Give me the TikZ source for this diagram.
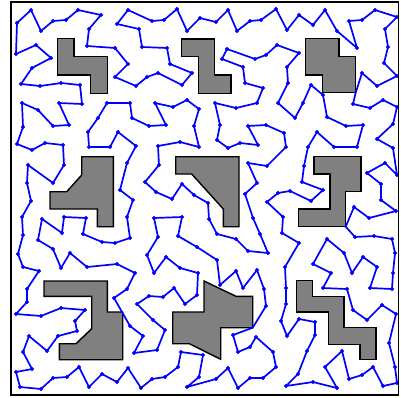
\documentclass[tikz,border=0pt]{standalone}
\definecolor{tourblue}{RGB}{0,0,255}
\definecolor{obsgray}{RGB}{128,128,128}
\begin{document}
\begin{tikzpicture}[x=1pt,y=-1pt]
\tikzset{obstacle/.style={fill=obsgray, draw=black, line width=1.4pt, line join=miter},
  tour/.style={draw=tourblue, line width=1.7pt, line join=round},
  tourdots/.style={only marks, mark=*, mark size=1.9pt, mark options={draw=tourblue, fill=tourblue}}}
\useasboundingbox (0,0) rectangle (401,397);
% obstacles
\draw[obstacle] (57.3,38.3) -- (74,38.3) -- (74,56.7) -- (107.3,56.7) -- (107.3,93.3) -- (90.7,93.3) -- (90.7,75) -- (57.3,75) -- cycle;
\draw[obstacle] (181.7,39) -- (214.3,39) -- (214.3,75) -- (231,75) -- (231,93.3) -- (198.3,93.3) -- (198.3,56.7) -- (181.7,56.7) -- cycle;
\draw[obstacle] (305.7,38.3) -- (339,38.3) -- (339,56.7) -- (355.7,56.7) -- (355.7,92.7) -- (322.7,92.7) -- (322.7,75) -- (305.7,75) -- cycle;
\draw[obstacle] (81.7,156.7) -- (113.3,156.7) -- (113.3,226.7) -- (97.3,226.7) -- (97.3,209) -- (50,209) -- (50,191.7) -- (66.7,191.7) -- (81.7,175) -- cycle;
\draw[obstacle] (175.7,156.7) -- (239,156.7) -- (239,226.7) -- (223.3,226.7) -- (223.3,209) -- (191.7,174) -- (175.7,174) -- cycle;
\draw[obstacle] (314,156.7) -- (361,156.7) -- (361,191.7) -- (345.7,191.7) -- (345.7,226.7) -- (298.3,226.7) -- (298.3,209) -- (330,209) -- (330,174) -- (314,174) -- cycle;
\draw[obstacle] (44,281) -- (107.3,281) -- (107.3,312) -- (122.7,312) -- (122.7,359.7) -- (59.3,359.7) -- (59.3,343.7) -- (76,343.7) -- (91.7,328.7) -- (91.7,296.3) -- (44,296.3) -- cycle;
\draw[obstacle] (204,281) -- (236,296.3) -- (252.7,296.3) -- (252.7,327.7) -- (220.7,327.7) -- (220.7,359.3) -- (189.3,343.7) -- (172.7,343.7) -- (172.7,312) -- (204,312) -- cycle;
\draw[obstacle] (296.7,280.3) -- (312.7,280.3) -- (312.7,296.3) -- (344,296.3) -- (344,327.7) -- (376,327.7) -- (376,359.3) -- (360,359.3) -- (360,344.3) -- (328.3,344.3) -- (328.3,312) -- (296.7,312) -- cycle;
% tour
\draw[tour] plot coordinates {
(215,103) (236,108) (257,103) (263,88) (245,83) (243,67) (222,59) (227,49) (255,59) (266,55) (277,45) (299,53) (287,67) (288,83) (278,103) (295,118) (303,103) (311,85) (323,95) (327,117) (346,126) (363,125) (357,147) (334,147) (317,132) (308,147) (304,166) (302,182) (323,190) (311,201) (290,191) (278,193) (267,202) (283,217) (282,233) (299,243) (285,267) (286,288) (286,304) (281,321) (287,336) (299,319) (315,322) (315,335) (307,351) (298,374) (286,386) (313,382) (337,388) (325,367) (342,351) (349,379) (362,375) (373,367) (383,386) (397,383) (395,367) (389,343) (396,314) (382,305) (367,320) (353,310) (347,289) (323,288) (331,273) (313,264) (327,239) (344,253) (352,273) (363,257) (377,267) (370,288) (392,289) (393,273) (395,253) (392,239) (374,236) (355,237) (345.7,226.7) (354,207) (369,218) (396,211) (381,200) (381,184) (367,173) (385,163) (397,175) (393,148) (377,139) (393,124) (397,107) (383,100) (370,108) (353,104) (355.7,92.7) (362,73) (377,86) (397,76) (384,63) (388,47) (385,29) (397,17) (375,10) (362,20) (349,21) (357,48) (337,31) (325,10) (313,25) (299,15) (287,30) (276,9) (261,20) (250,21) (237,31) (228,10) (216,22) (200,18) (187,31) (177,9) (164,20) (152,21) (128,10) (117,24) (139,29) (142,47) (167,48) (170,64) (192,73) (182,85) (158,73) (147,77) (136,86) (115,77) (128,64) (115,48) (87,46) (89,29) (101,15) (78,10) (66,20) (53,21) (41,31) (31,10) (17,23) (16,54) (36,45) (51,58) (32,68) (21,84) (40,86) (61,83) (80,85) (82,104) (59,103) (69,125) (53,126) (38,110) (22,103) (23,127) (17,144) (32,150) (45,143) (63,145) (64,165) (53,183) (28,165) (27,183) (31,201) (22,217) (23,235) (18,254) (23,267) (39,271) (27,289) (27,302) (16,314) (41,316) (61,308) (85,310) (75,321) (77,331) (58,336) (47,351) (29,336) (23,352) (32,369) (16,372) (20,387) (41,389) (53,378) (67,377) (79,367) (89,387) (102,374) (117,382) (128,368) (141,388) (152,379) (165,377) (178,367) (181,352) (203,355) (199,377) (187,387) (216,379) (228,368) (238,388) (250,378) (263,378) (276,367) (273,352) (256,337) (250,347) (238,352) (233,335) (252.7,327.7) (266,306) (264,289) (257,270) (243,288) (236,271) (220,285) (217,260) (197,247) (178,236) (182,217) (154,218) (158,237) (147,255) (154,273) (166,257) (180,268) (198,273) (197,295) (185,304) (174,288) (163,297) (149,296) (137,304) (153,320) (165,330) (157,350) (134,353) (143,336) (130,326) (114,298) (127,289) (135,273) (117,264) (87,267) (70,253) (61,268) (53,249) (38,240) (42,219) (62,233) (64,217) (86,218) (83,234) (102,242) (115,243) (130,238) (127,217) (133,200) (120,190) (127,163) (136,146) (118,132) (110,147) (89,147) (88,132) (98,118) (107,103) (130,103) (132,118) (149,126) (166,125) (155,103) (173,107) (187,100) (199,109) (194,126) (199,147) (180,142) (158,146) (159,165) (145,182) (156,192) (172,199) (182,184) (194,195) (208,203) (209,219) (217,234) (236,239) (248,251) (268,253) (260,234) (253,218) (245,194) (257,183) (248,163) (267,166) (286,147) (284,133) (266,125) (248,126) (258,145) (240,143) (228,148) (217,140) (220,125)
} -- cycle;
% tour points
\fill[tourblue] plot[tourdots] coordinates {
(215,103) (236,108) (257,103) (263,88) (245,83) (243,67) (222,59) (227,49) (255,59) (266,55) (277,45) (299,53) (287,67) (288,83) (278,103) (295,118) (303,103) (311,85) (323,95) (327,117) (346,126) (363,125) (357,147) (334,147) (317,132) (308,147) (304,166) (302,182) (323,190) (311,201) (290,191) (278,193) (267,202) (283,217) (282,233) (299,243) (285,267) (286,288) (286,304) (281,321) (287,336) (299,319) (315,322) (315,335) (307,351) (298,374) (286,386) (313,382) (337,388) (325,367) (342,351) (349,379) (362,375) (373,367) (383,386) (397,383) (395,367) (389,343) (396,314) (382,305) (367,320) (353,310) (347,289) (323,288) (331,273) (313,264) (327,239) (344,253) (352,273) (363,257) (377,267) (370,288) (392,289) (393,273) (395,253) (392,239) (374,236) (355,237) (354,207) (369,218) (396,211) (381,200) (381,184) (367,173) (385,163) (397,175) (393,148) (377,139) (393,124) (397,107) (383,100) (370,108) (353,104) (362,73) (377,86) (397,76) (384,63) (388,47) (385,29) (397,17) (375,10) (362,20) (349,21) (357,48) (337,31) (325,10) (313,25) (299,15) (287,30) (276,9) (261,20) (250,21) (237,31) (228,10) (216,22) (200,18) (187,31) (177,9) (164,20) (152,21) (128,10) (117,24) (139,29) (142,47) (167,48) (170,64) (192,73) (182,85) (158,73) (147,77) (136,86) (115,77) (128,64) (115,48) (87,46) (89,29) (101,15) (78,10) (66,20) (53,21) (41,31) (31,10) (17,23) (16,54) (36,45) (51,58) (32,68) (21,84) (40,86) (61,83) (80,85) (82,104) (59,103) (69,125) (53,126) (38,110) (22,103) (23,127) (17,144) (32,150) (45,143) (63,145) (64,165) (53,183) (28,165) (27,183) (31,201) (22,217) (23,235) (18,254) (23,267) (39,271) (27,289) (27,302) (16,314) (41,316) (61,308) (85,310) (75,321) (77,331) (58,336) (47,351) (29,336) (23,352) (32,369) (16,372) (20,387) (41,389) (53,378) (67,377) (79,367) (89,387) (102,374) (117,382) (128,368) (141,388) (152,379) (165,377) (178,367) (181,352) (203,355) (199,377) (187,387) (216,379) (228,368) (238,388) (250,378) (263,378) (276,367) (273,352) (256,337) (250,347) (238,352) (233,335) (266,306) (264,289) (257,270) (243,288) (236,271) (220,285) (217,260) (197,247) (178,236) (182,217) (154,218) (158,237) (147,255) (154,273) (166,257) (180,268) (198,273) (197,295) (185,304) (174,288) (163,297) (149,296) (137,304) (153,320) (165,330) (157,350) (134,353) (143,336) (130,326) (114,298) (127,289) (135,273) (117,264) (87,267) (70,253) (61,268) (53,249) (38,240) (42,219) (62,233) (64,217) (86,218) (83,234) (102,242) (115,243) (130,238) (127,217) (133,200) (120,190) (127,163) (136,146) (118,132) (110,147) (89,147) (88,132) (98,118) (107,103) (130,103) (132,118) (149,126) (166,125) (155,103) (173,107) (187,100) (199,109) (194,126) (199,147) (180,142) (158,146) (159,165) (145,182) (156,192) (172,199) (182,184) (194,195) (208,203) (209,219) (217,234) (236,239) (248,251) (268,253) (260,234) (253,218) (245,194) (257,183) (248,163) (267,166) (286,147) (284,133) (266,125) (248,126) (258,145) (240,143) (228,148) (217,140) (220,125)
};
% frame
\draw[line width=1.5pt] (11,2) rectangle (398.5,395);
\end{tikzpicture}
\end{document}
